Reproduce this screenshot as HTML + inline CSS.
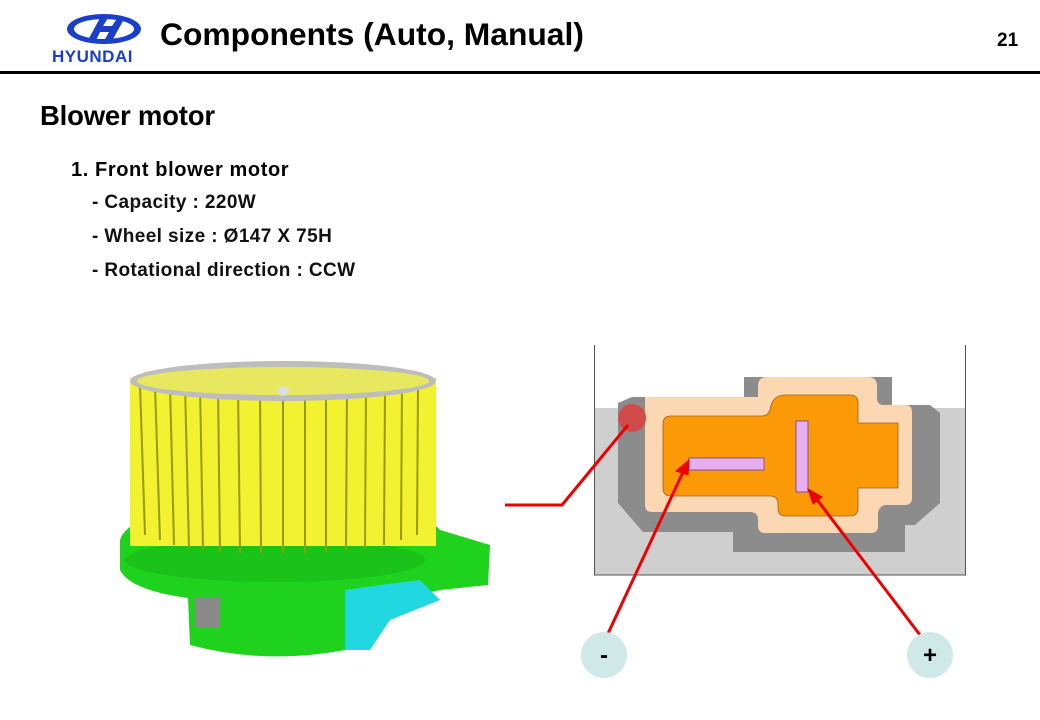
<!DOCTYPE html>
<html><head><meta charset="utf-8"><style>
html,body{margin:0;padding:0;background:#fff}
body{width:1040px;height:720px;position:relative;overflow:hidden;font-family:"Liberation Sans",Arial,sans-serif}
.t{position:absolute;white-space:nowrap;color:#000}
.b{font-size:19px;font-weight:bold;letter-spacing:0.4px;color:#111}
</style></head><body>
<svg width="1040" height="720" style="position:absolute;left:0;top:0">
<ellipse cx="104" cy="29" rx="37" ry="15" fill="#1a3fc8"/>
<ellipse cx="104" cy="29" rx="30" ry="10" fill="#fff"/>
<path d="M88 40 L100 18 L108 18 L103 26 L112 26 L118 17 L124 19 L112 41 L104 41 L109 32 L100 32 L95 42 Z" fill="#1a3fc8"/>
<text x="52" y="62" font-family="Liberation Sans" font-weight="bold" font-size="17" fill="#1a3fc8" letter-spacing="0.5">HYUNDAI</text>
<rect x="0" y="71" width="1040" height="3" fill="#000"/>

<path d="M120 540 Q130 505 275 505 Q420 505 440 530 L490 545 L488 585 L440 590 Q400 600 345 600 L345 650 Q265 665 190 645 L188 598 Q130 590 120 570 Z" fill="#1ed21e"/>
<path d="M345 590 L380 585 L420 580 L440 600 L390 620 L370 650 L345 650 Z" fill="#22d8e0"/>
<ellipse cx="275" cy="560" rx="150" ry="22" fill="#18b818" opacity="0.6"/>
<rect x="195" y="598" width="25" height="30" fill="#8a8a8a"/>
<rect x="130" y="378" width="306" height="168" fill="#f2f230"/>
<g stroke="#9a9a10" stroke-width="2">
<line x1="140" y1="385" x2="145" y2="535"/><line x1="155" y1="385" x2="160" y2="540"/><line x1="170" y1="385" x2="174" y2="545"/><line x1="185" y1="385" x2="189" y2="548"/><line x1="200" y1="385" x2="203" y2="550"/><line x1="218" y1="385" x2="220" y2="552"/><line x1="238" y1="385" x2="240" y2="553"/><line x1="260" y1="385" x2="261" y2="553"/><line x1="283" y1="385" x2="283" y2="553"/><line x1="305" y1="385" x2="305" y2="553"/><line x1="326" y1="385" x2="326" y2="552"/><line x1="347" y1="385" x2="346" y2="550"/><line x1="366" y1="385" x2="365" y2="548"/><line x1="385" y1="385" x2="384" y2="545"/><line x1="402" y1="385" x2="401" y2="540"/><line x1="418" y1="385" x2="417" y2="535"/>
</g>
<ellipse cx="283" cy="381" rx="153" ry="20" fill="#bdbdbd"/>
<ellipse cx="283" cy="381" rx="146" ry="14" fill="#e8e860"/>
<ellipse cx="283" cy="391" rx="6" ry="5" fill="#ddd"/>

<rect x="594" y="408" width="372" height="167" fill="#cfcfcf"/>
<line x1="594.5" y1="345" x2="594.5" y2="575" stroke="#555"/>
<line x1="965.5" y1="345" x2="965.5" y2="575" stroke="#555"/>
<line x1="594" y1="575" x2="966" y2="575" stroke="#555"/>
<polygon points="632,397 744,397 744,377 892,377 892,405 930,405 940,413 940,503 915,525 905,525 905,552 733,552 733,532 643,532 618,503 618,403" fill="#8c8c8c"/>
<path d="M645 397 H758 V386 Q758 377 767 377 H868 Q877 377 877 386 V398 Q877 405 884 405 H905 Q912 405 912 412 V498 Q912 505 905 505 H885 Q878 507 878 514 V526 Q878 533 871 533 H765 Q758 533 758 526 V520 Q758 512 750 512 H652 Q645 512 645 505 Z" fill="#fbd7b3"/>
<path d="M671 416 H762 Q768 416 770 410 Q772 395 785 395 H850 Q858 395 858 403 V423 H898 V488 H858 V508 Q858 516 850 516 H786 Q778 516 778 508 V504 Q778 496 770 496 H671 Q663 496 663 488 V424 Q663 416 671 416 Z" fill="#fb9a06" stroke="#a06020" stroke-width="0.8"/>
<rect x="689" y="458" width="75" height="12" fill="#e8b0f0" stroke="#8050a0"/>
<rect x="796" y="421" width="12" height="71" fill="#e8b0f0" stroke="#8050a0"/>
<circle cx="632" cy="418" r="14" fill="#d24b4b"/>
<polyline points="505,505 562,505 628,425" fill="none" stroke="#e00" stroke-width="3"/>
<g stroke="#e00" stroke-width="3" fill="#e00">
<line x1="605" y1="640" x2="684" y2="470"/>
<polygon points="689,460 676,471 688,475" stroke-width="1"/>
<line x1="920" y1="635" x2="815" y2="497"/>
<polygon points="808,489 813,504 822,497" stroke-width="1"/>
</g>
<circle cx="604" cy="655" r="23" fill="#cfe9e9"/>
<circle cx="930" cy="655" r="23" fill="#cfe9e9"/>
<text x="604" y="663" text-anchor="middle" font-family="Liberation Sans" font-weight="bold" font-size="24">-</text>
<text x="930" y="663" text-anchor="middle" font-family="Liberation Sans" font-weight="bold" font-size="24">+</text>
</svg>
<div class="t" style="left:160px;top:16px;font-size:31.8px;font-weight:bold">Components (Auto, Manual)</div>
<div class="t" style="left:997px;top:30px;font-size:19px;font-weight:bold">21</div>
<div class="t" style="left:40px;top:100px;font-size:27.5px;font-weight:bold;letter-spacing:-0.2px">Blower motor</div>
<div class="t" style="left:71px;top:159px;font-size:20px;font-weight:bold;letter-spacing:0.6px">1. Front blower motor</div>
<div class="t b" style="left:92px;top:192px">- Capacity : 220W</div>
<div class="t b" style="left:92px;top:226px">- Wheel size : Ø147 X 75H</div>
<div class="t b" style="left:92px;top:260px">- Rotational direction : CCW</div>
</body></html>
